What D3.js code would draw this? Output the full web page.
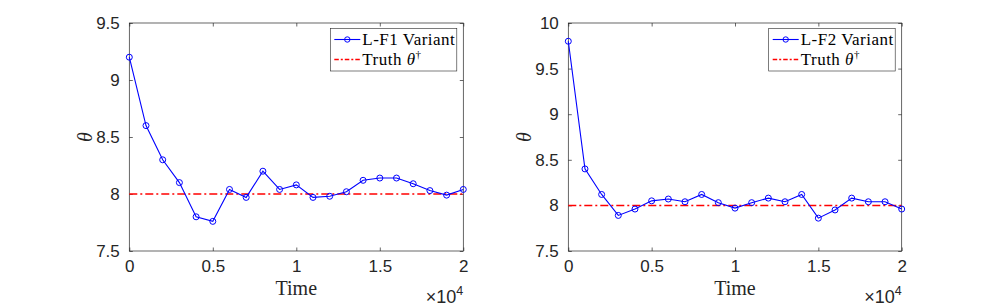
<!DOCTYPE html>
<html>
<head>
<meta charset="utf-8">
<script src="https://cdn.jsdelivr.net/npm/d3@7"></script>
<style>
  body { margin: 0; background: #fff; }
  svg { display: block; }
</style>
</head>
<body>
<div id="chart"></div>
<script>
// time steps (x values, axis shows them in units of 1e4)
const times = d3.range(0, 21).map(i => i * 1000);
const f1Values = [9.2, 8.6, 8.3, 8.1, 7.8, 7.76, 8.04, 7.97, 8.2, 8.04, 8.08,
                  7.97, 7.98, 8.02, 8.12, 8.14, 8.14, 8.09, 8.03, 7.99, 8.04];
const f2Values = [9.8, 8.4, 8.12, 7.89, 7.96, 8.05, 8.07, 8.04, 8.12, 8.03, 7.97,
                  8.03, 8.08, 8.04, 8.12, 7.86, 7.95, 8.08, 8.04, 8.04, 7.96];
const truth = 8;
const xTicks = [0, 5000, 10000, 15000, 20000];
const yTicks1 = [7.5, 8, 8.5, 9, 9.5];
const yTicks2 = [7.5, 8, 8.5, 9, 9.5, 10];

const width = 997, height = 306;
const svg = d3.select('#chart').append('svg')
    .attr('width', width)
    .attr('height', height);

const axisColor = '#262626';
const sans = '"Liberation Sans", Arial, Helvetica, sans-serif';
const serif = '"Liberation Serif", "Times New Roman", serif';

const drawPanel = (left, right, yDomain, yTicks, values, label) => {
    const top = 23, bottom = 251;
    const x = d3.scaleLinear().domain([0, 20000]).range([left, right]);
    const y = d3.scaleLinear().domain(yDomain).range([bottom, top]);

    const g = svg.append('g');

    // frame
    g.append('rect')
        .attr('x', left).attr('y', top)
        .attr('width', right - left).attr('height', bottom - top)
        .attr('fill', 'none').attr('stroke', axisColor).attr('stroke-width', 0.7);

    const fmtX = d => d3.format('~g')(d / 10000);

    const xAxis = g.append('g')
        .attr('transform', `translate(0,${bottom})`)
        .call(d3.axisBottom(x).tickValues(xTicks).tickSizeInner(-3.5).tickSizeOuter(0).tickPadding(9).tickFormat(fmtX));
    const xTop = g.append('g')
        .attr('transform', `translate(0,${top})`)
        .call(d3.axisTop(x).tickValues(xTicks).tickSizeInner(-3.5).tickSizeOuter(0).tickFormat(''));
    const yAxis = g.append('g')
        .attr('transform', `translate(${left},0)`)
        .call(d3.axisLeft(y).tickValues(yTicks).tickSizeInner(-3.5).tickSizeOuter(0).tickPadding(9.5).tickFormat(d3.format('~g')));
    const yRight = g.append('g')
        .attr('transform', `translate(${right},0)`)
        .call(d3.axisRight(y).tickValues(yTicks).tickSizeInner(-3.5).tickSizeOuter(0).tickFormat(''));

    [xAxis, xTop, yAxis, yRight].forEach(a => {
        a.select('.domain').remove();
        a.selectAll('line').attr('stroke', axisColor).attr('stroke-width', 0.7);
        a.selectAll('text')
            .attr('fill', axisColor)
            .style('font-family', sans)
            .style('font-size', '17px');
    });

    // truth line
    g.append('line')
        .attr('x1', x(0)).attr('x2', x(20000))
        .attr('y1', y(truth)).attr('y2', y(truth))
        .attr('stroke', '#ff0000').attr('stroke-width', 1.5)
        .attr('stroke-dasharray', '8,3,2,3');

    // series
    const pts = times.map((t, i) => [t, values[i]]);
    g.append('path')
        .datum(pts)
        .attr('fill', 'none')
        .attr('stroke', '#0000ff')
        .attr('stroke-width', 1.1)
        .attr('d', d3.line().x(d => x(d[0])).y(d => y(d[1])));
    g.selectAll('.pt')
        .data(pts)
        .enter()
        .append('circle')
        .attr('class', 'pt')
        .attr('cx', d => x(d[0]))
        .attr('cy', d => y(d[1]))
        .attr('r', 3)
        .attr('fill', 'none')
        .attr('stroke', '#0000ff')
        .attr('stroke-width', 1);

    // axis labels
    g.append('text')
        .attr('x', (left + right) / 2).attr('y', 295)
        .attr('text-anchor', 'middle')
        .style('font', `20px ${serif}`)
        .attr('fill', axisColor)
        .text('Time');

    const mult = g.append('text')
        .attr('x', right).attr('y', 303)
        .attr('text-anchor', 'end')
        .style('font', `18px ${sans}`)
        .attr('fill', axisColor);
    mult.append('tspan').text('\u00d710');
    mult.append('tspan').attr('dy', -8).style('font-size', '12.5px').text('4');

    g.append('text')
        .attr('transform', `translate(${left - 37},${(top + bottom) / 2}) rotate(-90)`)
        .attr('text-anchor', 'middle')
        .style('font', `italic 20px ${serif}`)
        .attr('fill', axisColor)
        .text('\u03b8');

    // legend
    const lx = right - 133, ly = 28.5, lw = 126.5, lh = 42.5;
    const leg = g.append('g');
    leg.append('rect')
        .attr('x', lx).attr('y', ly).attr('width', lw).attr('height', lh)
        .attr('fill', '#fff').attr('stroke', axisColor).attr('stroke-width', 0.6);
    leg.append('line')
        .attr('x1', lx + 4).attr('x2', lx + 30).attr('y1', ly + 11).attr('y2', ly + 11)
        .attr('stroke', '#0000ff').attr('stroke-width', 1.1);
    leg.append('circle')
        .attr('cx', lx + 17).attr('cy', ly + 11).attr('r', 2.7)
        .attr('fill', 'none').attr('stroke', '#0000ff').attr('stroke-width', 1);
    leg.append('line')
        .attr('x1', lx + 4).attr('x2', lx + 30).attr('y1', ly + 31).attr('y2', ly + 31)
        .attr('stroke', '#ff0000').attr('stroke-width', 1.5)
        .attr('stroke-dasharray', '4.5,2,2,2');
    leg.append('text')
        .attr('x', lx + 32).attr('y', ly + 16.5)
        .style('font', `17px ${serif}`)
        .style('letter-spacing', '0.5px')
        .attr('fill', '#000')
        .text(label);
    const t2 = leg.append('text')
        .attr('x', lx + 32).attr('y', ly + 36.5)
        .style('font', `17px ${serif}`)
        .style('letter-spacing', '0.5px')
        .attr('fill', '#000');
    t2.append('tspan').text('Truth ');
    t2.append('tspan').style('font-style', 'italic').text('\u03b8');
    t2.append('tspan').attr('dy', -7).style('font-size', '11px').text('\u2020');
};

drawPanel(129.3, 463.3, [7.5, 9.5], yTicks1, f1Values, 'L-F1 Variant');
drawPanel(568.3, 901.7, [7.5, 10], yTicks2, f2Values, 'L-F2 Variant');
</script>
</body>
</html>
